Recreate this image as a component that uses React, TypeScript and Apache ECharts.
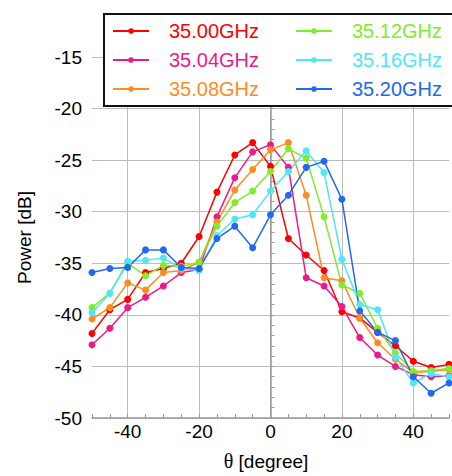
import React, { useEffect, useRef } from "react";
import * as echarts from "echarts";

const xValues = [-50, -45, -40, -35, -30, -25, -20, -15, -10, -5, 0, 5, 10, 15, 20, 25, 30, 35, 40, 45, 50];
const seriesNames = ["35.00GHz", "35.04GHz", "35.08GHz", "35.12GHz", "35.16GHz", "35.20GHz"];
const seriesColors = ["#ff0000", "#ee1a87", "#ff8c1e", "#80ec2a", "#4ee6fa", "#2368ee"];

const s3500 = [-41.8, -39.5, -38.5, -35.9, -35.5, -35.0, -32.4, -28.1, -24.5, -23.3, -25.6, -32.6, -34.2, -35.7, -39.7, -40.3, -41.7, -43.0, -44.5, -45.1, -44.8];
const s3504 = [-42.9, -41.3, -39.3, -38.3, -37.2, -35.9, -35.6, -30.5, -26.7, -24.2, -23.5, -25.7, -36.4, -37.2, -39.2, -42.2, -43.9, -45.0, -45.8, -46.0, -45.9];
const s3508 = [-40.4, -39.3, -36.9, -37.6, -35.9, -35.7, -34.9, -31.0, -27.9, -25.9, -24.0, -23.3, -28.4, -36.4, -36.7, -40.3, -42.7, -44.3, -45.6, -45.5, -45.3];
const s3512 = [-39.3, -37.9, -35.0, -36.2, -35.2, -35.3, -34.9, -31.4, -29.1, -28.0, -26.1, -23.9, -24.8, -30.5, -37.1, -37.9, -41.3, -43.7, -45.5, -45.4, -45.2];
const s3516 = [-39.8, -37.9, -34.8, -34.7, -34.5, -35.5, -35.7, -32.3, -30.7, -30.3, -28.0, -26.1, -24.1, -26.2, -34.6, -39.0, -39.5, -44.1, -46.6, -45.7, -46.0];
const s3520 = [-35.9, -35.5, -35.4, -33.7, -33.7, -35.4, -35.5, -32.6, -31.4, -33.5, -30.3, -28.4, -25.7, -25.1, -28.8, -39.6, -41.7, -42.5, -46.0, -47.6, -46.6];
const allSeries = [s3500, s3504, s3508, s3512, s3516, s3520];

const xTickLabels = [-40, -20, 0, 20, 40];

const FONT = '"Liberation Sans", Arial, sans-serif';

export default function App() {
  const ref = useRef<HTMLDivElement>(null);
  useEffect(() => {
    document.body.style.margin = "0";
    const chart = echarts.init(ref.current!, null, { renderer: "svg" });
    const axisGray = "#9a9a9a";
    const gridGray = "#bdbdbd";
    const series: any[] = allSeries.map((vals, i) => ({
      type: "line",
      name: seriesNames[i],
      data: xValues.map((x, j) => [x, vals[j]]),
      color: seriesColors[i],
      symbol: "circle",
      symbolSize: 7,
      showSymbol: true,
      lineStyle: { width: 1.5, color: seriesColors[i] },
      itemStyle: { color: seriesColors[i] },
      emphasis: { disabled: true },
    }));
    const legendBase = {
      orient: "vertical",
      top: 21,
      itemWidth: 36,
      itemHeight: 7,
      itemGap: 9,
      padding: 0,
      z: 200,
      selectedMode: false,
      textStyle: { fontSize: 20, fontFamily: FONT, padding: [0, 0, 0, 15], lineHeight: 20 },
    };
    chart.setOption({
      animation: false,
      grid: { left: 92, top: 57, right: -7, bottom: 52.5 },
      graphic: [
        {
          type: "rect",
          z: 100,
          shape: { x: 104, y: 14, width: 360, height: 92 },
          style: { fill: "#ffffff", stroke: "#111111", lineWidth: 2 },
        },
      ],
      legend: [
        {
          ...legendBase,
          left: 112,
          data: seriesNames.slice(0, 3).map((n, i) => ({ name: n, textStyle: { color: seriesColors[i] } })),
        },
        {
          ...legendBase,
          left: 295,
          data: seriesNames.slice(3).map((n, i) => ({ name: n, textStyle: { color: seriesColors[i + 3] } })),
        },
      ],
      xAxis: {
        type: "value",
        min: -50,
        max: 50,
        interval: 10,
        axisLine: { show: true, lineStyle: { color: axisGray, width: 1.5 } },
        axisTick: { show: true, inside: true, length: 4, lineStyle: { color: axisGray } },
        minorTick: { show: true, splitNumber: 2, length: 4, lineStyle: { color: axisGray } },
        splitLine: { show: true, lineStyle: { color: ["rgba(0,0,0,0)", gridGray], width: 1 } },
        axisLabel: {
          color: "#000",
          fontSize: 19,
          fontFamily: FONT,
          margin: 4,
          formatter: (v: number) => (xTickLabels.indexOf(v) >= 0 ? String(v) : ""),
        },
        name: "{t|θ} [degree]",
        nameLocation: "middle",
        nameGap: 33,
        nameTextStyle: {
          color: "#000",
          fontSize: 19,
          fontFamily: FONT,
          padding: [0, 9, 0, 0],
          rich: { t: { fontFamily: '"Liberation Serif", serif', fontSize: 20, color: "#000" } },
        },
      },
      yAxis: {
        type: "value",
        min: -50,
        max: -15,
        interval: 5,
        axisLine: { show: true, lineStyle: { color: axisGray, width: 1.5 } },
        axisTick: { show: true, inside: true, length: 4, lineStyle: { color: axisGray } },
        minorTick: { show: true, splitNumber: 5, length: 4, lineStyle: { color: axisGray } },
        splitLine: { show: true, lineStyle: { color: gridGray, width: 1 } },
        axisLabel: { color: "#000", fontSize: 19, fontFamily: FONT, margin: 10 },
        name: "Power [dB]",
        nameLocation: "middle",
        nameGap: 58,
        nameRotate: 90,
        nameTextStyle: { color: "#000", fontSize: 19, fontFamily: FONT },
      },
      series,
    });
    return () => chart.dispose();
  }, []);
  return <div ref={ref} style={{ position: "absolute", left: 0, top: 0, width: 452, height: 476 }} />;
}
